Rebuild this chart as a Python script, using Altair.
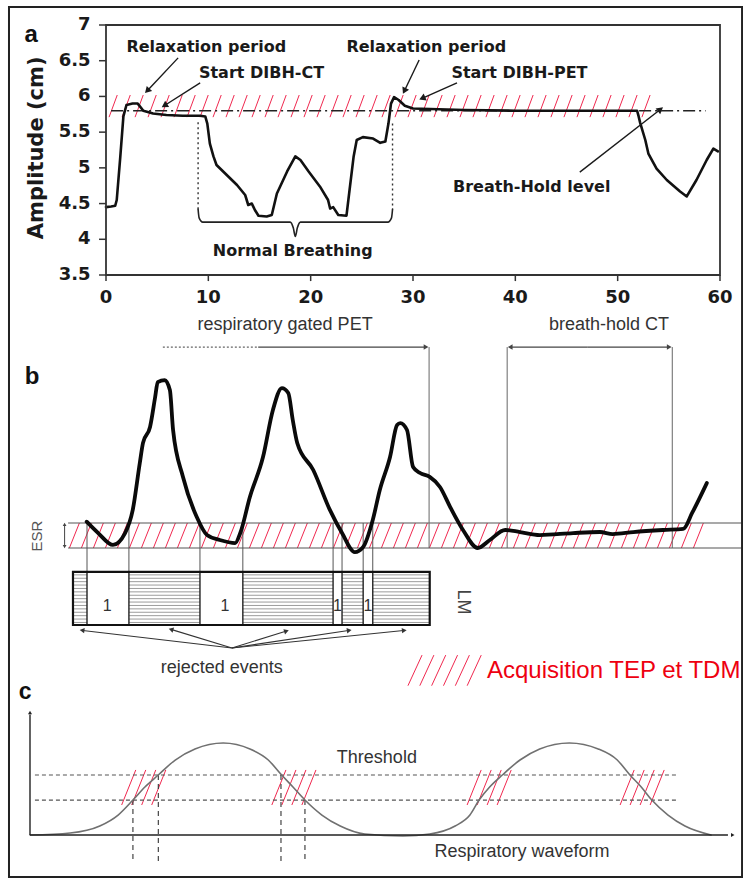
import math
import altair as alt
import numpy as np
import pandas as pd

# ---------------- panel a : breath-hold trace ----------------
a_time = [0.0, 0.5, 0.9, 1.05, 1.4, 1.7, 2.0, 2.6, 3.1, 3.65, 4.6, 5.9, 7.5, 9.2, 9.7, 9.9,
          10.15, 10.5, 10.8, 11.8, 12.8, 13.6, 13.9, 14.25, 14.55, 14.9, 15.7, 16.2, 16.7,
          17.7, 18.5, 19.0, 19.8, 20.9, 21.7, 21.9, 22.2, 22.7, 23.5, 23.8, 24.2, 24.5, 25.1,
          26.1, 26.8, 27.3, 27.6, 27.85, 28.15, 28.6, 29.2, 30.0, 35.0, 40.0, 45.0, 51.9,
          52.05, 52.2, 52.7, 53.0, 53.8, 54.8, 56.1, 56.75, 57.7, 58.7, 59.35, 59.8]
a_amp = [4.45, 4.46, 4.47, 4.55, 5.16, 5.72, 5.88, 5.9, 5.9, 5.8, 5.76, 5.74, 5.73, 5.73,
         5.72, 5.62, 5.34, 5.16, 5.04, 4.90, 4.76, 4.62, 4.48, 4.50, 4.41, 4.33, 4.32, 4.34,
         4.64, 4.95, 5.16, 5.11, 4.95, 4.74, 4.55, 4.43, 4.45, 4.34, 4.33, 4.69, 5.16, 5.39,
         5.43, 5.41, 5.35, 5.37, 5.62, 5.90, 5.99, 5.95, 5.87, 5.83, 5.81, 5.80, 5.80, 5.80,
         5.72, 5.63, 5.39, 5.20, 4.99, 4.83, 4.67, 4.60, 4.83, 5.11, 5.27, 5.23]
a_xticks = [0, 10, 20, 30, 40, 50, 60]
a_xtick_labels = ["0", "10", "20", "30", "40", "50", "60"]
a_yticks = [3.5, 4, 4.5, 5, 5.5, 6, 6.5, 7]
a_ytick_labels = ["3.5", "4", "4.5", "5", "5.5", "6", "6.5", "7"]
a_level = 5.8
a_band = [5.71, 6.02]
a_band_t = [0.3, 53.5]
a_normal_t = [9.0, 28.0]
brace_t = [9.0, 9.1, 9.45, 18.0, 18.3, 18.5, 18.7, 19.0, 27.55, 27.9, 28.0]
brace_amp = [4.42, 4.3, 4.24, 4.24, 4.16, 4.04, 4.16, 4.24, 4.24, 4.3, 4.42]
a_notes = ["Relaxation period", "Start DIBH-CT", "Relaxation period", "Start DIBH-PET",
           "Breath-Hold level", "Normal Breathing"]
a_notes_t = [9.8, 15.2, 31.3, 40.4, 41.6, 18.25]
a_notes_amp = [6.69, 6.33, 6.69, 6.33, 4.73, 3.84]
a_arr_t0 = [7.05, 9.2, 30.6, 34.3, 46.3]
a_arr_a0 = [6.54, 6.19, 6.51, 6.19, 4.94]
a_arr_t1 = [4.1, 5.8, 29.2, 31.0, 54.1]
a_arr_a1 = [6.09, 5.88, 6.09, 5.98, 5.81]

# ---------------- panel b : gated PET / breath-hold CT ----------------
b_t = [3.7, 5.5, 7.8, 9.7, 10.9, 12.0, 12.5, 13.6, 14.4, 14.8, 15.9, 16.7, 17.2, 18.75,
       20.9, 22.5, 24.5, 26.9, 27.7, 29.2, 31.25, 32.8, 34.2, 35.2, 35.9, 36.6, 39.1, 41.7,
       43.6, 45.6, 46.9, 48.4, 49.5, 51.1, 52.2, 52.7, 53.75, 54.7, 55.8, 57.3, 58.9, 60.5,
       62.5, 64.8, 66.7, 69.1, 71.4, 74.5, 79.7, 83.9, 85.9, 89.1, 93.75, 96.9, 98.3, 100.6]
b_amp = [15.5, 8.8, 1.8, 8.8, 22.4, 50.0, 61.8, 71.2, 88.8, 97.6, 98.8, 92.9, 69.4, 41.8,
         18.2, 7.6, 4.7, 2.9, 8.8, 30.0, 53.5, 81.2, 94.1, 91.2, 75.3, 61.8, 45.9, 22.4,
         8.8, -2.4, 0.6, 16.5, 34.1, 53.5, 72.4, 73.5, 69.4, 47.6, 44.1, 41.8, 35.9, 24.1,
         10.6, 0.0, 4.7, 10.6, 9.4, 7.6, 8.8, 9.4, 8.2, 9.4, 10.6, 11.2, 20.6, 38.2]
esr_band = [0.0, 14.7]
esr_t = [0.8, 106.0]
gate_t = [3.75, 10.3, 21.4, 28.1, 42.2, 43.6, 46.9, 48.4]
window_t = [57.2, 69.4, 95.2]
window_top = 118.2
lm_box = [1.56, 57.3, -45.3, -14.1]
lm_open_t0 = [3.75, 21.4, 42.2, 46.9]
lm_open_t1 = [10.3, 28.1, 43.6, 48.4]
lm_open_label_t = [6.9, 25.3, 42.9, 47.65]
lm_striped_t0 = [1.56, 10.3, 28.1, 43.6, 48.4]
lm_striped_t1 = [3.75, 21.4, 42.2, 46.9, 57.3]
rej_from = [26.4, -58.8]
rej_to_t = [3.1, 17.0, 34.8, 44.6, 53.2]
rej_to_a = [-48.5, -48.0, -49.0, -48.5, -48.5]
legend_box = [53.9, 63.5, -81.0, -63.0]

# ---------------- panel c : amplitude gating ----------------
c_u = [0, 5.7, 9.9, 12.5, 14.6, 16.3, 18.2, 20.6, 23.4, 27.4, 31.2, 33.8, 35.7, 37.3, 39.0,
       41.4, 44.0, 47.5, 52.9, 56.7, 60.3, 62.4, 63.7, 65.2, 67.0, 69.5, 72.3, 76.5, 80.6,
       83.3, 85.1, 86.7, 88.2, 90.5, 92.9, 96.6]
c_v = [0, 2.2, 9.8, 21.7, 38.0, 52.2, 65.2, 81.5, 93.5, 100, 93.5, 81.5, 65.2, 52.2, 38.0,
       21.7, 9.8, 1.1, -1.1, 1.1, 9.8, 21.7, 38.0, 52.2, 65.2, 81.5, 93.5, 100, 93.5, 81.5,
       65.2, 52.2, 38.0, 21.7, 9.8, 0]
c_thresholds = [38.0, 65.2]
c_thr_u = [0.7, 91.9]
c_gate_u = [14.6, 18.2, 35.6, 39.0]
c_gate_top = [38.0, 65.2, 65.2, 38.0]
c_gate_bottom = -30.4
c_patch_u0 = [13.0, 34.3, 62.0, 83.7]
c_patch_u1 = [19.6, 40.6, 68.5, 90.1]

# ---------------- scales (one per panel) ----------------
P = {
    "a": dict(xd=[0, 60], xr=[106, 720], yd=[3.5, 7], yr=[275, 25]),
    "b": dict(xd=[0, 100], xr=[63, 703], yd=[0, 100], yr=[548, 378]),
    "c": dict(xd=[0, 100], xr=[30, 735], yd=[0, 100], yr=[835, 743]),
}
RED = "#f0284f"


def scales(p):
    d = P[p]
    return (alt.Scale(domain=d["xd"], range=d["xr"], nice=False, zero=False),
            alt.Scale(domain=d["yd"], range=d["yr"], nice=False, zero=False))


def kfac(p):
    d = P[p]
    return ((d["xr"][1] - d["xr"][0]) / (d["xd"][1] - d["xd"][0]),
            (d["yr"][1] - d["yr"][0]) / (d["yd"][1] - d["yd"][0]))


def xy(p, x2=False):
    sx, sy = scales(p)
    e = {"x": alt.X("x", type="quantitative", scale=sx, axis=None),
         "y": alt.Y("y", type="quantitative", scale=sy, axis=None)}
    if x2:
        e["x2"] = alt.X2("x2")
        e["y2"] = alt.Y2("y2")
    return e


layers = []


def add_rules(p, x0, y0, x1, y1, color, width=1.0, dash=None):
    df = pd.DataFrame({"x": list(x0), "y": list(y0), "x2": list(x1), "y2": list(y1)})
    kw = dict(color=color, strokeWidth=width)
    if dash:
        kw["strokeDash"] = dash
    layers.append(alt.Chart(df).mark_rule(**kw).encode(**xy(p, True)))


def add_line(p, xs, ys, color, width, interp="linear"):
    df = pd.DataFrame({"x": xs, "y": ys, "o": list(range(len(xs)))})
    layers.append(alt.Chart(df).mark_line(color=color, strokeWidth=width, interpolate=interp,
                                          strokeJoin="round", strokeCap="round")
                  .encode(order="o:Q", **xy(p)))


def add_text(p, labels, xs, ys, size, color="#222", weight="normal", font="Liberation Sans",
             align="center", angle=0):
    df = pd.DataFrame({"x": xs, "y": ys, "label": labels})
    kw = dict(fontSize=size, color=color, fontWeight=weight, font=font, align=align,
              baseline="middle")
    if angle:
        kw["angle"] = angle
    layers.append(alt.Chart(df).mark_text(**kw).encode(text="label:N", **xy(p)))


def add_heads(p, xs, ys, angs, size, color):
    df = pd.DataFrame({"x": xs, "y": ys, "ang": angs})
    layers.append(alt.Chart(df).mark_point(shape="triangle", filled=True, size=size, color=color,
                                           opacity=1, strokeWidth=0)
                  .encode(angle=alt.Angle("ang:Q", scale=None), **xy(p)))


def head_angle(p, x0, y0, x1, y1):
    kx, ky = kfac(p)
    dx, dy = (x1 - x0) * kx, (y1 - y0) * ky
    return math.degrees(math.atan2(dx, -dy)) % 360


def add_arrows(p, x0, y0, x1, y1, color, width, size):
    add_rules(p, x0, y0, x1, y1, color, width)
    angs = [head_angle(p, a, b, c, d) for a, b, c, d in zip(x0, y0, x1, y1)]
    add_heads(p, list(x1), list(y1), angs, size, color)


def add_rects(p, x0, x1, y0, y1, fill, stroke, sw, fop=1.0):
    df = pd.DataFrame({"x": x0, "x2": x1, "y": y0, "y2": y1})
    layers.append(alt.Chart(df).mark_rect(fill=fill, fillOpacity=fop, stroke=stroke,
                                          strokeWidth=sw).encode(**xy(p, True)))


def hatch(p, x_start, x_end, y0, y1, step, slant, color=RED, width=1.0):
    xs = np.arange(x_start, x_end - slant + 1e-9, step)
    add_rules(p, xs, [y0] * len(xs), xs + slant, [y1] * len(xs), color, width)


# ================= panel a =================
hatch("a", a_band_t[0], a_band_t[1], a_band[0], a_band[1], 1.27, 0.8)
add_rules("a", [0.5], [a_level], [58.6], [a_level], "#222", 1.6, [12, 4, 2, 4])
add_rules("a", a_normal_t, [5.64, 5.62], a_normal_t, [4.42, 4.42], "#333", 1.4, [2, 3])
add_line("a", brace_t, brace_amp, "#222", 1.6, "monotone")
add_line("a", a_time, a_amp, "#111", 2.6)
add_rects("a", [0], [60], [3.5], [7], "white", "#333", 1.8, 0.0)
add_rules("a", a_xticks, [3.5] * 7, a_xticks, [3.415] * 7, "#333", 1.5)
add_rules("a", [0] * 8, a_yticks, [-0.68] * 8, a_yticks, "#333", 1.5)
add_text("a", a_xtick_labels, a_xticks, [3.18] * 7, 18, "#1a1a1a", "bold", "DejaVu Sans")
add_text("a", a_ytick_labels, [-1.5] * 8, a_yticks, 18, "#1a1a1a", "bold", "DejaVu Sans",
         align="right")
add_text("a", ["Amplitude (cm)"], [-6.75], [5.28], 21, "#1a1a1a", "bold", "DejaVu Sans",
         angle=270)
add_text("a", ["a"], [-7.3], [6.86], 24, "#111", "bold")
add_text("a", a_notes, a_notes_t, a_notes_amp, 16, "#1a1a1a", "bold", "DejaVu Sans")
add_arrows("a", a_arr_t0, a_arr_a0, a_arr_t1, a_arr_a1, "#1a1a1a", 1.4, 55)

# ================= panel b =================
hatch("b", 1.0, 101.2, esr_band[0], esr_band[1], 1.875, 1.56)
add_rules("b", [esr_t[0]] * 2, esr_band, [esr_t[1]] * 2, esr_band, "#555", 1.2)
add_rules("b", window_t, [0] * 3, window_t, [window_top] * 3, "#666", 1.0)
add_rules("b", gate_t, [esr_band[1]] * 8, gate_t, [lm_box[3]] * 8, "#555", 1.0)
add_rules("b", [15.6], [window_top], [30.5], [window_top], "#666", 1.3, [2, 2])
add_arrows("b", [30.5, 82.0, 82.0], [window_top] * 3, [56.6, 70.0, 94.6], [window_top] * 3,
           "#444", 1.2, 30)
add_text("b", ["respiratory gated PET", "breath-hold CT"], [34.7, 85.3], [131.2, 131.2], 18,
         "#333")
add_line("b", b_t, b_amp, "#0a0a0a", 3.8, "monotone")

# LM list-mode bar
stripe_y = np.arange(lm_box[2] + 1.5, lm_box[3] - 0.5, 2.0)
sx0, sx1, sy = [], [], []
for t0, t1 in zip(lm_striped_t0, lm_striped_t1):
    for yv in stripe_y:
        sx0.append(t0)
        sx1.append(t1)
        sy.append(yv)
add_rules("b", sx0, sy, sx1, sy, "#9c9c9c", 1.0)
add_rects("b", lm_open_t0, lm_open_t1, [lm_box[2]] * 4, [lm_box[3]] * 4, "white", "#222", 1.4)
add_rects("b", [lm_box[0]], [lm_box[1]], [lm_box[2]], [lm_box[3]], "white", "#111", 2.2, 0.0)
add_text("b", ["1", "1", "1", "1"], lm_open_label_t, [-34.1] * 4, 16, "#333")
add_text("b", ["LM"], [62.5], [-31.8], 18, "#444", angle=90)
add_text("b", ["ESR"], [-4.06], [7.06], 15, "#555", angle=270)
add_rules("b", [0.25], [1.5], [0.25], [13.2], "#444", 1.0)
add_heads("b", [0.25, 0.25], [13.6, 1.1], [0, 180], 14, "#444")
add_arrows("b", [rej_from[0]] * 5, [rej_from[1]] * 5, rej_to_t, rej_to_a, "#333", 1.1, 30)
add_text("b", ["rejected events"], [24.8], [-70.6], 18, "#333")
hatch("b", legend_box[0], legend_box[1] + 2.2, legend_box[2], legend_box[3], 1.85, 2.2)
add_text("b", ["Acquisition TEP et TDM"], [66.25], [-72.6], 24, "#ee0010", align="left")
add_text("b", ["b"], [-4.84], [100.6], 24, "#111", "bold")

# ================= panel c =================
for u0, u1 in zip(c_patch_u0, c_patch_u1):
    hatch("c", u0, u1, 32.6, 70.7, 1.42, 2.0)
add_rules("c", [c_thr_u[0]] * 2, c_thresholds, [c_thr_u[1]] * 2, c_thresholds, "#555", 1.2,
          [4, 3])
add_rules("c", c_gate_u, c_gate_top, c_gate_u, [c_gate_bottom] * 4, "#333", 1.1, [5, 4])
add_line("c", c_u, c_v, "#707070", 1.6, "monotone")
add_rules("c", [0, 0], [0, 0], [0, 99.0], [131.0, 0], "#222", 1.4)
add_heads("c", [0, 99.6], [132.5, 0], [0, 90], 16, "#222")
add_text("c", ["Threshold"], [49.2], [83.7], 18, "#333")
add_text("c", ["Respiratory waveform"], [69.8], [-18.5], 18, "#333")
add_text("c", ["c"], [-0.7], [155.4], 23, "#111", "bold")

# outer frame of the whole figure
add_rects("c", [-2.98], [101.0], [-45.6], [900.0], "white", "#222", 2.0, 0.0)

chart = (
    alt.layer(*layers)
    .resolve_scale(x="independent", y="independent")
    .properties(width=743, height=879, padding=0,
                autosize=alt.AutoSizeParams(type="none"), background="white")
    .configure_view(stroke=None)
)

chart.save("out.html", embed_options={"renderer": "svg", "actions": False})
